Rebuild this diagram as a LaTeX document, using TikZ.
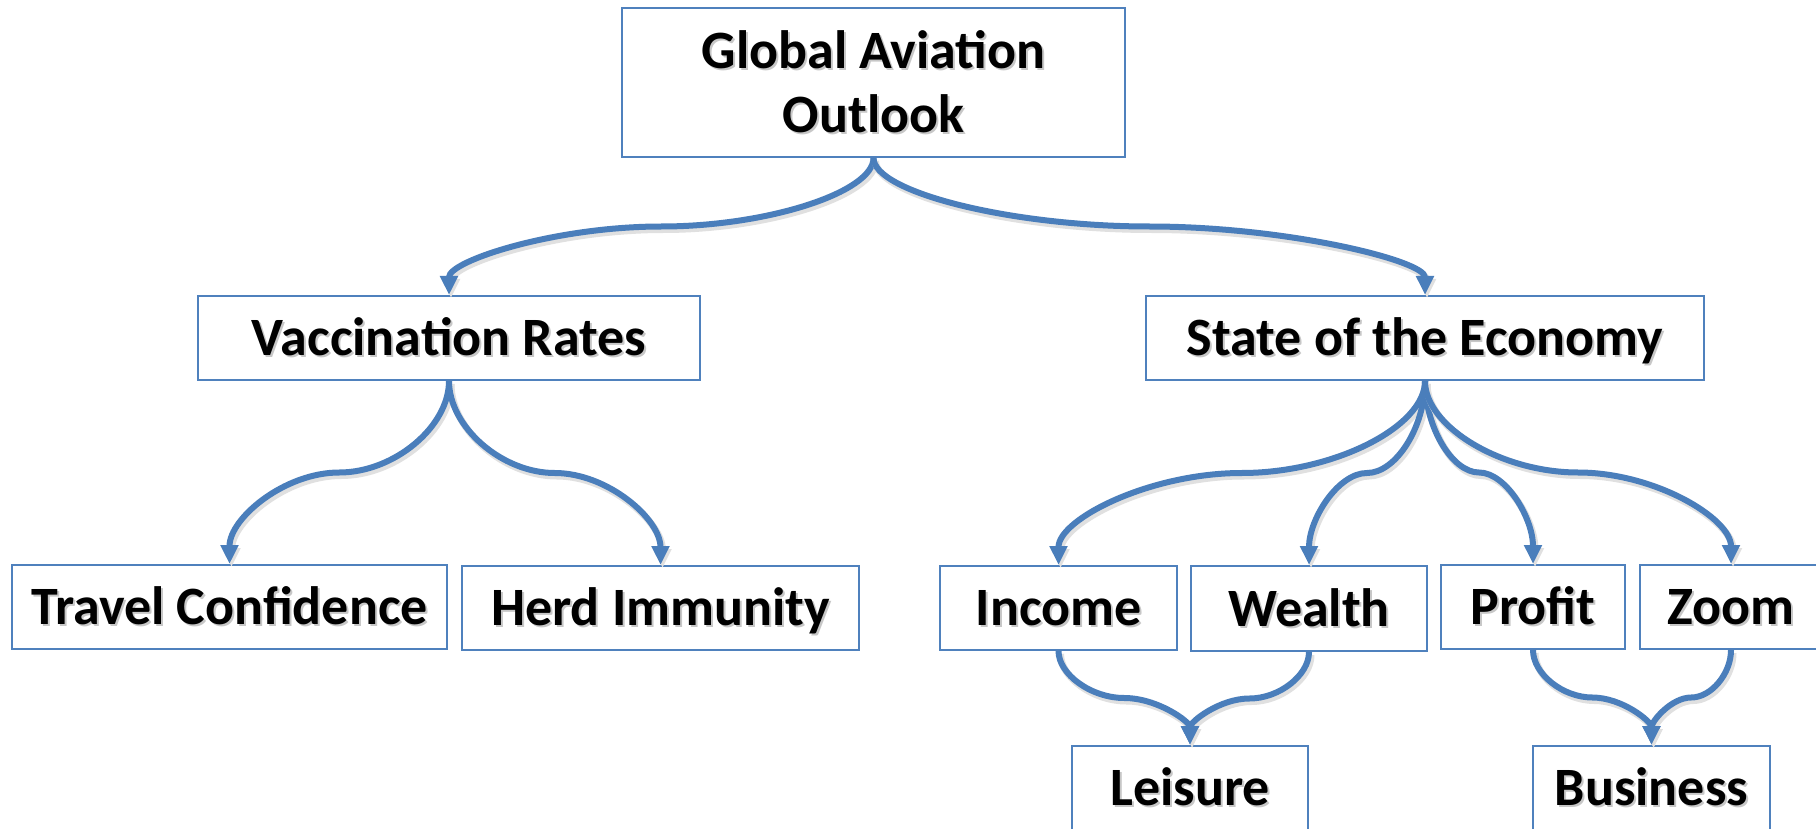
\documentclass[tikz,border=0pt]{standalone}
\usepackage{fontspec}
\setmainfont{Carlito}
\usetikzlibrary{arrows.meta,calc}
\definecolor{boxblue}{RGB}{79,129,189}
\definecolor{linkblue}{RGB}{74,126,187}
\newcommand\shtxt[1]{\leavevmode\rlap{\hspace{2pt}\raisebox{-2pt}{\color{black!22}#1}}#1}
\newcommand\linkto[2]{%
  \draw[connector] let \p1=(#1.south), \p2=(#2.north) in
    (\p1) .. controls (\x1,{\y1+(\y2-\y1)/4}) and ({\x1+(\x2-\x1)/4},{(\y1+\y2)/2})
    .. ({(\x1+\x2)/2},{(\y1+\y2)/2})
    .. controls ({\x1+3*(\x2-\x1)/4},{(\y1+\y2)/2}) and (\x2,{\y1+3*(\y2-\y1)/4})
    .. (\p2);}
\begin{document}
\begin{tikzpicture}[x=1pt,y=-1pt,
  box/.style={draw=boxblue, line width=2pt, fill=white, inner sep=0pt,
    font=\fontsize{54}{64}\selectfont\bfseries, text=black},
  onebox/.style={box, text height=35pt, text depth=0pt},
  connector/.style={draw=linkblue, line width=6pt,
    -{Triangle[width=17pt,length=19pt]},
    preaction={draw=black!12, line width=7pt, transform canvas={shift={(2pt,-3pt)}}}}]
\clip (0,0) rectangle (1816,829);
\fill[white] (0,0) rectangle (1816,829);

\node[box, align=center, minimum width=503pt, minimum height=149pt] (top) at (873.5,82.5)
  {\shtxt{Global Aviation}\\\shtxt{Outlook}};
\node[onebox, minimum width=502pt, minimum height=84pt] (vac) at (449,338) {\shtxt{Vaccination Rates}};
\node[onebox, minimum width=558pt, minimum height=84pt] (soe) at (1425,338) {\shtxt{State of the Economy}};
\node[onebox, minimum width=435pt, minimum height=84pt] (tc) at (229.5,607) {\shtxt{Travel Confidence}};
\node[onebox, minimum width=397pt, minimum height=84pt] (hi) at (660.5,608) {\shtxt{Herd Immunity}};
\node[onebox, minimum width=237pt, minimum height=84pt] (inc) at (1058.5,608) {\shtxt{Income}};
\node[onebox, minimum width=236pt, minimum height=85pt] (wea) at (1309,608.5) {\shtxt{Wealth}};
\node[onebox, minimum width=184pt, minimum height=84pt] (pro) at (1533,607) {\shtxt{Profit}};
\node[onebox, minimum width=182pt, minimum height=84pt] (zoo) at (1731,607) {\shtxt{Zoom}};
\node[onebox, minimum width=236pt, minimum height=84pt] (lei) at (1190,788) {\shtxt{Leisure}};
\node[onebox, minimum width=237pt, minimum height=84pt] (bus) at (1651.5,788) {\shtxt{Business}};

\linkto{top}{vac}
\linkto{top}{soe}
\linkto{vac}{tc}
\linkto{vac}{hi}
\linkto{soe}{inc}
\linkto{soe}{wea}
\linkto{soe}{pro}
\linkto{soe}{zoo}
\linkto{inc}{lei}
\linkto{wea}{lei}
\linkto{pro}{bus}
\linkto{zoo}{bus}
\end{tikzpicture}
\end{document}
